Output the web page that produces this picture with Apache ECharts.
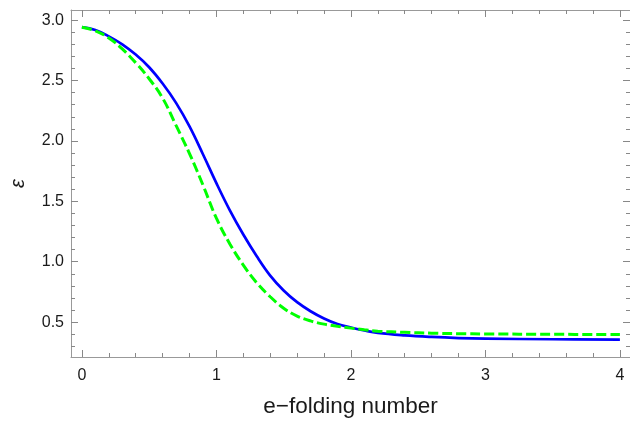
<!DOCTYPE html>
<html>
<head>
<meta charset="utf-8">
<script src="https://cdn.jsdelivr.net/npm/echarts@6/dist/echarts.min.js"></script>
<style>
html,body{margin:0;padding:0;background:#fff;}
#c{width:630px;height:423px;}
</style>
</head>
<body>
<div id="c"></div>
<script>
// ---- data ----
var xs = [0, 0.1, 0.2, 0.3, 0.4, 0.5, 0.6, 0.7, 0.8, 0.9, 1.0, 1.1, 1.2, 1.3, 1.4, 1.5, 1.6, 1.7, 1.8, 1.9, 2.0, 2.1, 2.2, 2.4, 2.6, 2.8, 3.0, 3.5, 4.0];
var blueVals = [2.942, 2.918, 2.866, 2.80, 2.715, 2.61, 2.475, 2.315, 2.12, 1.89, 1.65, 1.425, 1.225, 1.045, 0.885, 0.762, 0.665, 0.59, 0.53, 0.484, 0.455, 0.43, 0.41, 0.39, 0.377, 0.368, 0.363, 0.358, 0.355];
var greenVals = [2.942, 2.912, 2.852, 2.762, 2.647, 2.515, 2.355, 2.128, 1.895, 1.635, 1.36, 1.147, 0.972, 0.825, 0.71, 0.615, 0.55, 0.51, 0.483, 0.465, 0.45, 0.436, 0.425, 0.415, 0.408, 0.404, 0.402, 0.399, 0.397];

var xMajorTicks = [0, 1, 2, 3, 4];
var xMinorTicks = [0.2, 0.4, 0.6, 0.8, 1.2, 1.4, 1.6, 1.8, 2.2, 2.4, 2.6, 2.8, 3.2, 3.4, 3.6, 3.8];
var yMajorTicks = [0.5, 1.0, 1.5, 2.0, 2.5, 3.0];
var yMinorTicks = [0.3, 0.4, 0.6, 0.7, 0.8, 0.9, 1.1, 1.2, 1.3, 1.4, 1.6, 1.7, 1.8, 1.9, 2.1, 2.2, 2.3, 2.4, 2.6, 2.7, 2.8, 2.9];

var xName = 'e\u2212folding number';
var yName = '\u03b5';

var xMin = -0.081, xMax = 4.075, yMin = 0.211, yMax = 3.084;

var frameColor = '#999999';
var tickColor = '#888888';
var labelColor = '#1a1a1a';
var FONT = 'Liberation Sans, Arial, sans-serif';

function pairs(x, y) { return x.map(function (v, i) { return [v, y[i]]; }); }

function xAx(pos, major, withLabel, showLine) {
  return {
    type: 'value', position: pos, min: xMin, max: xMax,
    axisLine: { show: showLine, onZero: false, lineStyle: { color: frameColor, width: 1 } },
    axisTick: { show: true, inside: true, length: major ? 7 : 4, customValues: major ? xMajorTicks : xMinorTicks,
      lineStyle: { color: tickColor, width: 1 } },
    axisLabel: { show: withLabel, customValues: xMajorTicks, margin: 11, color: labelColor, fontSize: 16, fontFamily: FONT,
      formatter: function (v) { return String(Math.round(v)); } },
    splitLine: { show: false },
    name: withLabel ? xName : '', nameLocation: 'middle', nameGap: 38,
    nameTextStyle: { fontSize: 22.5, color: labelColor, fontFamily: FONT }
  };
}
function yAx(pos, major, withLabel, showLine) {
  return {
    type: 'value', position: pos, min: yMin, max: yMax,
    axisLine: { show: showLine, onZero: false, lineStyle: { color: frameColor, width: 1 } },
    axisTick: { show: true, inside: true, length: major ? 7 : 4, customValues: major ? yMajorTicks : yMinorTicks,
      lineStyle: { color: tickColor, width: 1 } },
    axisLabel: { show: withLabel, customValues: yMajorTicks, margin: 7, color: labelColor, fontSize: 16, fontFamily: FONT,
      formatter: function (v) { return v.toFixed(1); } },
    splitLine: { show: false },
    name: withLabel ? yName : '', nameLocation: 'middle', nameGap: 43, nameRotate: 90,
    nameTextStyle: { fontSize: 20, fontStyle: 'italic', color: labelColor, fontFamily: FONT }
  };
}

var chart = echarts.init(document.getElementById('c'), null, { renderer: 'canvas' });
chart.setOption({
  animation: false,
  backgroundColor: '#ffffff',
  grid: { left: 67, right: 0, top: 10, bottom: 64, containLabel: false },
  xAxis: [xAx('bottom', true, true, true), xAx('bottom', false, false, false), xAx('top', true, false, true), xAx('top', false, false, false)],
  yAxis: [yAx('left', true, true, true), yAx('left', false, false, false), yAx('right', true, false, true), yAx('right', false, false, false)],
  series: [
    { type: 'line', data: pairs(xs, blueVals), xAxisIndex: 0, yAxisIndex: 0, showSymbol: false, smooth: 0.4,
      lineStyle: { color: '#0000ff', width: 2.7 }, z: 3 },
    { type: 'line', data: pairs(xs, greenVals), xAxisIndex: 0, yAxisIndex: 0, showSymbol: false, smooth: 0.4,
      lineStyle: { color: '#00ff00', width: 3, type: [10, 4] }, z: 4 }
  ]
});
</script>
</body>
</html>
